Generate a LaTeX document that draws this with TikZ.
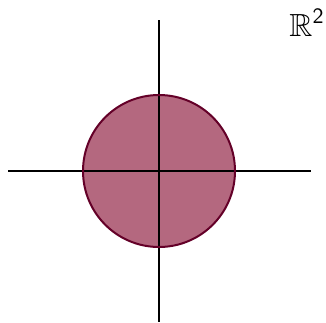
\documentclass[tikz,border=0pt]{standalone}
\usepackage{amsmath,amssymb}
\usepackage{xcolor}
\usepackage{tikz}
\definecolor{diskfill}{RGB}{180,104,127}
\definecolor{diskline}{RGB}{100,0,40}

\begin{document}
\begin{tikzpicture}[
    x=0.5pt, y=-0.5pt,
    axis/.style={line width=1pt, black},
    disk/.style={draw=diskline, fill=diskfill, line width=1pt},
    lbl/.style={inner sep=0pt, font=\fontsize{16}{18}\selectfont},
]
    \useasboundingbox (0,0) rectangle (326,322);

    % Disk
    \fill[diskfill] (159,171) circle[radius=76];

    % Axes
    \coordinate (xl) at (8,171);
    \coordinate (xr) at (311,171);
    \coordinate (yt) at (159,20);
    \coordinate (yb) at (159,322);
    \draw[axis] (xl) -- (xr);
    \draw[axis] (yt) -- (yb);

    % Boundary
    \draw[disk, fill=none] (159,171) circle[radius=76];

    % Label
    \node[lbl] (space) at (307,23) {$\mathbb{R}^{\mathsf{2}}$};
\end{tikzpicture}
\end{document}
